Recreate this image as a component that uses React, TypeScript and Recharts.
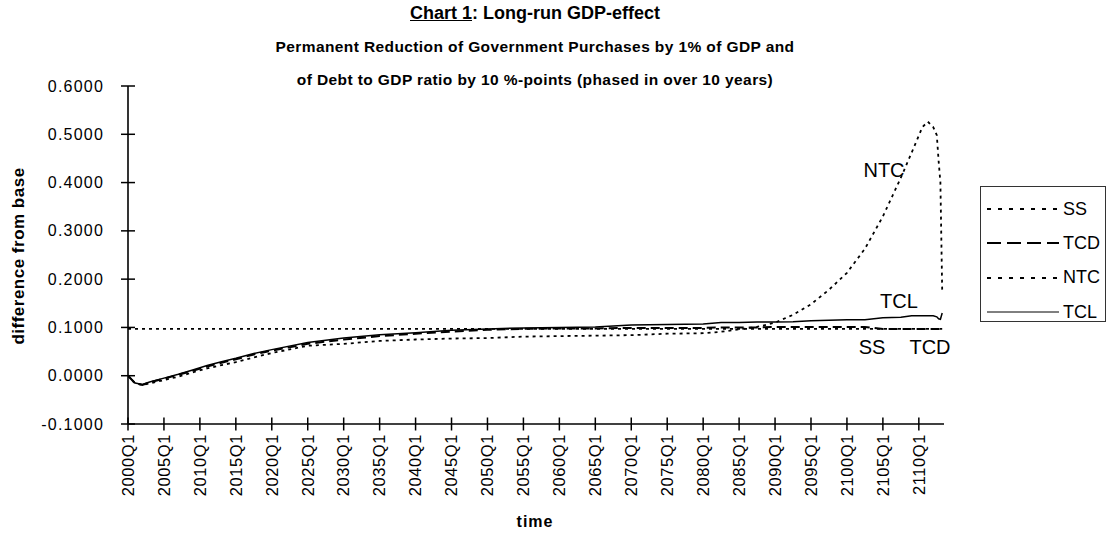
import { Legend, Line, LineChart, XAxis, YAxis } from 'recharts';

// quarter index, 0 = 2000Q1
const quarterIndex = [
  0, 4, 8, 12, 20, 28, 36, 44, 52, 60, 70, 80, 100, 120, 140, 160, 180, 200, 220, 240, 260, 280,
  300, 320, 330, 340, 350, 360, 370, 380, 390, 400, 410, 420, 430, 436, 442, 445, 448, 450, 451,
  452, 453,
];

const ssValues = [
  0.097, 0.097, 0.097, 0.097, 0.097, 0.097, 0.097, 0.097, 0.097, 0.097, 0.097, 0.097, 0.097,
  0.097, 0.097, 0.097, 0.097, 0.097, 0.097, 0.097, 0.097, 0.097, 0.097, 0.097, 0.097, 0.097,
  0.097, 0.097, 0.097, 0.097, 0.097, 0.097, 0.097, 0.097, 0.097, 0.097, 0.097, 0.097, 0.097,
  0.097, 0.097, 0.097, 0.097,
];

const tcdValues = [
  0, -0.016, -0.019, -0.014, -0.006, 0.002, 0.01, 0.019, 0.027, 0.034, 0.044, 0.052, 0.066, 0.075,
  0.082, 0.087, 0.091, 0.095, 0.097, 0.098, 0.098, 0.099, 0.099, 0.099, 0.1, 0.1, 0.1, 0.101,
  0.101, 0.101, 0.101, 0.101, 0.101, 0.097, 0.097, 0.097, 0.097, 0.097, 0.097, 0.097, 0.097, 0.097,
  0.097,
];

const ntcValues = [
  0, -0.016, -0.019, -0.016, -0.009, -0.002, 0.007, 0.015, 0.022, 0.028, 0.038, 0.047, 0.062,
  0.066, 0.072, 0.075, 0.077, 0.078, 0.081, 0.082, 0.083, 0.084, 0.087, 0.088, 0.091, 0.096, 0.101,
  0.11, 0.126, 0.148, 0.178, 0.213, 0.263, 0.33, 0.41, 0.462, 0.515, 0.526, 0.515, 0.498, 0.445,
  0.4, 0.175,
];

const tclValues = [
  0, -0.015, -0.018, -0.013, -0.005, 0.003, 0.012, 0.021, 0.029, 0.036, 0.046, 0.054, 0.069, 0.078,
  0.085, 0.089, 0.094, 0.097, 0.099, 0.1, 0.101, 0.105, 0.106, 0.107, 0.11, 0.11, 0.111, 0.111,
  0.112, 0.114, 0.115, 0.116, 0.116, 0.12, 0.121, 0.124, 0.124, 0.124, 0.124, 0.122, 0.118, 0.117,
  0.13,
];

const xTickQuarters = [
  0, 20, 40, 60, 80, 100, 120, 140, 160, 180, 200, 220, 240, 260, 280, 300, 320, 340, 360, 380,
  400, 420, 440,
];
const xTickLabels = [
  '2000Q1', '2005Q1', '2010Q1', '2015Q1', '2020Q1', '2025Q1', '2030Q1', '2035Q1', '2040Q1',
  '2045Q1', '2050Q1', '2055Q1', '2060Q1', '2065Q1', '2070Q1', '2075Q1', '2080Q1', '2085Q1',
  '2090Q1', '2095Q1', '2100Q1', '2105Q1', '2110Q1',
];
const yTicks = [-0.1, 0, 0.1, 0.2, 0.3, 0.4, 0.5, 0.6];

const data = quarterIndex.map((q, i) => ({
  q,
  SS: ssValues[i],
  TCD: tcdValues[i],
  NTC: ntcValues[i],
  TCL: tclValues[i],
}));

const series = [
  { name: 'SS', dash: '3 4', legendDash: '4 7', width: 1.8 },
  { name: 'TCD', dash: '9 5', legendDash: '14 6', width: 2 },
  { name: 'NTC', dash: '3 4', legendDash: '4 7', width: 1.8 },
  { name: 'TCL', dash: undefined, legendDash: undefined, width: 1.5 },
];

const font = '"Liberation Sans", Arial, sans-serif';
const ink = '#000';

function XTick({ x, y, payload }: any) {
  const label = xTickLabels[xTickQuarters.indexOf(payload.value)];
  const ty = y + 10;
  return (
    <g>
      <line x1={x} x2={x} y1={y - 6.5} y2={y + 6.5} stroke={ink} strokeWidth={1.5} />
      <text
        x={x}
        y={ty}
        transform={`rotate(-90 ${x} ${ty})`}
        textAnchor="end"
        dy="0.35em"
        fontFamily={font}
        fontSize={16.5}
        letterSpacing={0.6}
        fill={ink}
      >
        {label}
      </text>
    </g>
  );
}

function YTick({ x, y, payload }: any) {
  return (
    <g>
      <line x1={x - 7} x2={x + 7} y1={y} y2={y} stroke={ink} strokeWidth={1.5} />
      <text
        x={x - 24}
        y={y}
        dy="0.35em"
        textAnchor="end"
        fontFamily={font}
        fontSize={16}
        letterSpacing={1.2}
        fill={ink}
      >
        {Number(payload.value).toFixed(4)}
      </text>
    </g>
  );
}

function LegendBox() {
  return (
    <div
      style={{
        width: 126,
        height: 136,
        border: '1px solid #333',
        background: '#fff',
        boxSizing: 'border-box',
        paddingTop: 5,
      }}
    >
      {series.map((s) => (
        <div key={s.name} style={{ display: 'flex', alignItems: 'center', height: 34.3 }}>
          <svg width={78} height={10} style={{ marginLeft: 6 }}>
            <line
              x1={0}
              x2={72}
              y1={5}
              y2={5}
              stroke={ink}
              strokeWidth={s.dash ? s.width : 1}
              strokeDasharray={s.legendDash}
            />
          </svg>
          <span style={{ fontFamily: font, fontSize: 18, color: ink, marginLeft: -2 }}>{s.name}</span>
        </div>
      ))}
    </div>
  );
}

const abs = (left: number, top: number, extra: React.CSSProperties = {}): React.CSSProperties => ({
  position: 'absolute',
  left,
  top,
  fontFamily: font,
  color: ink,
  whiteSpace: 'nowrap',
  lineHeight: 1,
  ...extra,
});

export default function App() {
  return (
    <div style={{ position: 'absolute', left: 0, top: 0, width: 1110, height: 540, background: '#fff' }}>
      <LineChart width={1110} height={540} data={data} margin={{ top: 86, right: 166, bottom: 36, left: 48 }}>
        <XAxis
          dataKey="q"
          type="number"
          domain={[0, 454]}
          ticks={xTickQuarters}
          interval={0}
          height={80}
          tickSize={0}
          tickMargin={0}
          tickLine={false}
          tick={<XTick />}
          axisLine={{ stroke: ink, strokeWidth: 1.6 }}
          allowDataOverflow
        />
        <YAxis
          type="number"
          domain={[-0.1, 0.6]}
          ticks={yTicks}
          interval={0}
          width={80}
          tickSize={0}
          tickMargin={0}
          tickLine={false}
          tick={<YTick />}
          axisLine={{ stroke: ink, strokeWidth: 1.6 }}
        />
        <Legend
          layout="vertical"
          align="center"
          verticalAlign="middle"
          content={() => <LegendBox />}
          wrapperStyle={{ position: 'absolute', left: 980, top: 186, width: 126, height: 136 }}
        />
        {series.map((s) => (
          <Line
            key={s.name}
            name={s.name}
            dataKey={s.name}
            type="linear"
            stroke={ink}
            strokeWidth={s.width}
            strokeDasharray={s.dash}
            dot={false}
            activeDot={false}
            isAnimationActive={false}
          />
        ))}
      </LineChart>

      <div style={abs(0, 4, { width: 1070, textAlign: 'center', fontSize: 18, fontWeight: 'bold' })}>
        <span style={{ textDecoration: 'underline' }}>Chart 1</span>: Long-run GDP-effect
      </div>
      <div style={abs(0, 39, { width: 1070, textAlign: 'center', fontSize: 15.5, fontWeight: 'bold', letterSpacing: 0.4 })}>
        Permanent Reduction of Government Purchases by 1% of GDP and
      </div>
      <div style={abs(0, 72, { width: 1070, textAlign: 'center', fontSize: 15.5, fontWeight: 'bold', letterSpacing: 0.4 })}>
        of Debt to GDP ratio by 10 %-points (phased in over 10 years)
      </div>

      <div
        style={abs(18, 256, {
          fontSize: 17,
          fontWeight: 'bold',
          letterSpacing: 0.5,
          transform: 'translate(-50%, -50%) rotate(-90deg)',
        })}
      >
        difference from base
      </div>
      <div style={abs(535, 522, { fontSize: 16, fontWeight: 'bold', letterSpacing: 1, transform: 'translate(-50%, -50%)' })}>
        time
      </div>

      <div style={abs(884, 170, { fontSize: 20, transform: 'translate(-50%, -50%)' })}>NTC</div>
      <div style={abs(899, 301, { fontSize: 20, transform: 'translate(-50%, -50%)' })}>TCL</div>
      <div style={abs(872, 347, { fontSize: 20, transform: 'translate(-50%, -50%)' })}>SS</div>
      <div style={abs(930, 347, { fontSize: 20, transform: 'translate(-50%, -50%)' })}>TCD</div>
    </div>
  );
}
